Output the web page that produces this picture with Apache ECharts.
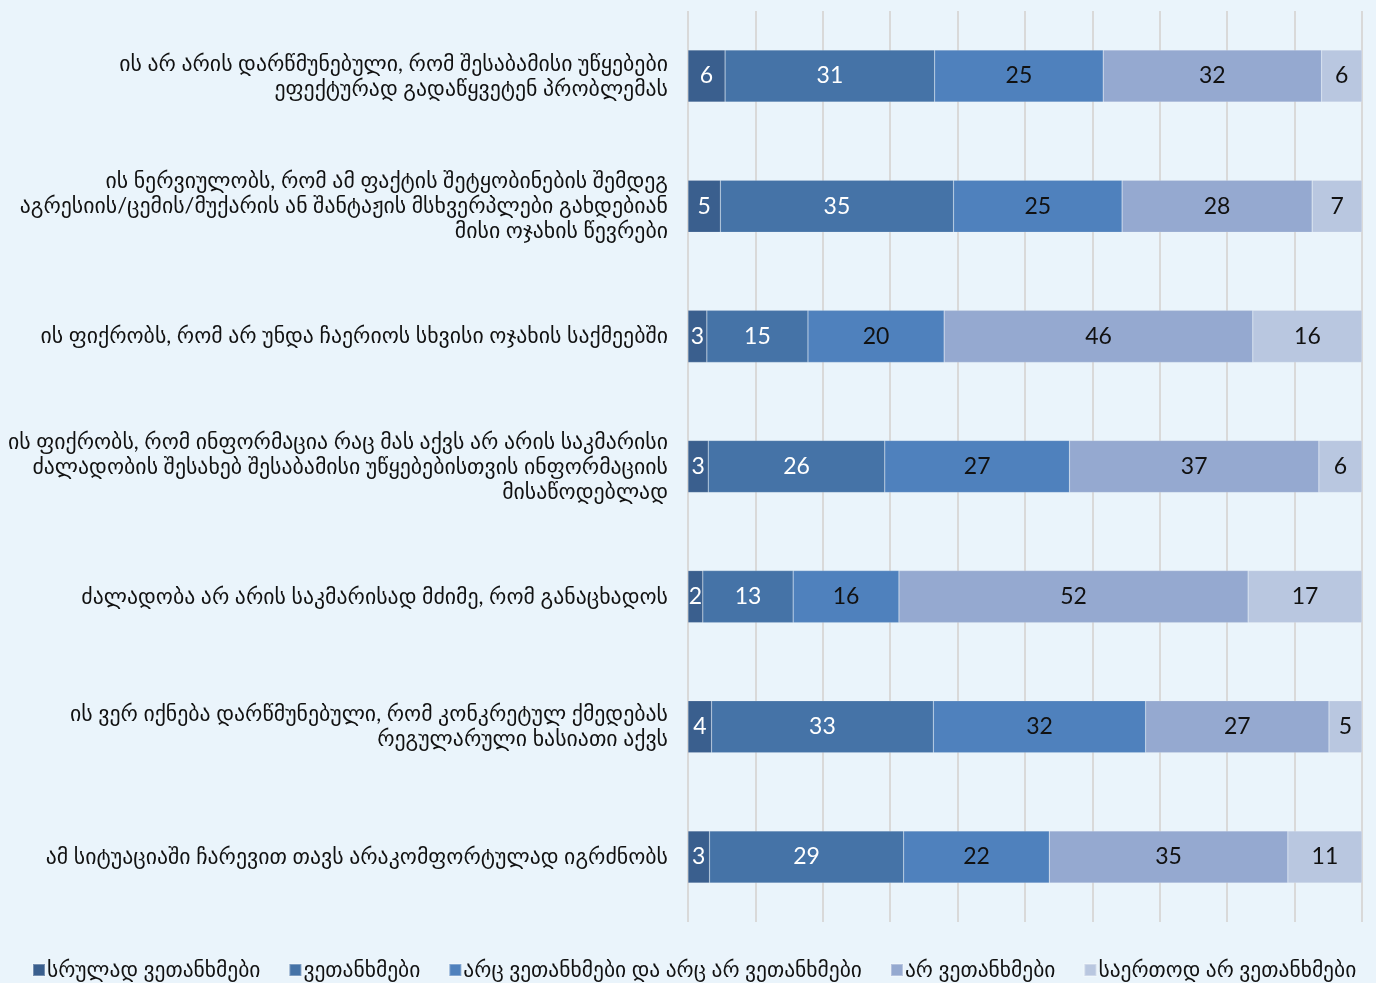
<!DOCTYPE html>
<html>
<head>
<meta charset="utf-8">
<script src="https://cdn.jsdelivr.net/npm/echarts@6/dist/echarts.min.js"></script>
<style>
  html, body { margin: 0; padding: 0; background: #eaf4fb; }
  #main { width: 1376px; height: 983px; }
</style>
</head>
<body>
<div id="main"></div>
<script>
var categories = [
  'ის არ არის დარწმუნებული, რომ შესაბამისი უწყებები\nეფექტურად გადაწყვეტენ პრობლემას',
  'ის ნერვიულობს, რომ ამ ფაქტის შეტყობინების შემდეგ\nაგრესიის/ცემის/მუქარის ან შანტაჟის მსხვერპლები გახდებიან\nმისი ოჯახის წევრები',
  'ის ფიქრობს, რომ არ უნდა ჩაერიოს სხვისი ოჯახის საქმეებში',
  'ის ფიქრობს, რომ ინფორმაცია რაც მას აქვს არ არის საკმარისი\nძალადობის შესახებ შესაბამისი უწყებებისთვის ინფორმაციის\nმისაწოდებლად',
  'ძალადობა არ არის საკმარისად მძიმე, რომ განაცხადოს',
  'ის ვერ იქნება დარწმუნებული, რომ კონკრეტულ ქმედებას\nრეგულარული ხასიათი აქვს',
  'ამ სიტუაციაში ჩარევით თავს არაკომფორტულად იგრძნობს'
];
var seriesNames = ['სრულად ვეთანხმები', 'ვეთანხმები', 'არც ვეთანხმები და არც არ ვეთანხმები', 'არ ვეთანხმები', 'საერთოდ არ ვეთანხმები'];
// percentages (labels show rounded values)
var fullyAgree = [5.5, 4.8, 2.8, 3.0, 2.2, 3.5, 3.2];
var agree = [31.1, 34.6, 15.0, 26.2, 13.4, 32.9, 28.8];
var neutral = [25.0, 25.0, 20.2, 27.4, 15.7, 31.5, 21.6];
var disagree = [32.4, 28.2, 45.8, 37.0, 51.8, 27.2, 35.4];
var fullyDisagree = [6.0, 7.4, 16.2, 6.4, 16.9, 4.9, 11.0];

var colors = ['#3a5f8e', '#4573a7', '#4f81bd', '#95a9d0', '#b9c7e0'];
var labelColors = ['#ffffff', '#ffffff', '#111111', '#111111', '#111111'];
var values = [fullyAgree, agree, neutral, disagree, fullyDisagree];
var fontFam = "Lato, 'DejaVu Sans', sans-serif";

var chart = echarts.init(document.getElementById('main'));
var series = [];
for (var i = 0; i < seriesNames.length; i++) {
  series.push({
    name: seriesNames[i],
    type: 'bar',
    stack: 'total',
    barWidth: '40%',
    data: values[i],
    itemStyle: { color: colors[i], borderColor: 'rgba(255,255,255,0.3)', borderWidth: 0.5 },
    label: {
      show: true,
      position: 'inside',
      color: labelColors[i],
      fontSize: 23,
      fontFamily: fontFam,
      formatter: function (p) { return Math.round(p.value); }
    }
  });
}

var option = {
  backgroundColor: '#eaf4fb',
  color: colors,
  animation: false,
  grid: { left: 688, right: 14, top: 11, bottom: 61, containLabel: false },
  legend: {
    bottom: -3,
    left: 27,
    icon: 'rect',
    itemWidth: 12,
    itemHeight: 12,
    itemGap: 28,
    textStyle: { fontSize: 21.5, color: '#111', fontFamily: fontFam, padding: [0, 0, 0, -3] }
  },
  xAxis: {
    type: 'value',
    min: 0,
    max: 100,
    interval: 10,
    axisLabel: { show: false },
    axisLine: { show: false },
    axisTick: { show: false },
    splitLine: { lineStyle: { color: '#d9d9d9', width: 2 } }
  },
  yAxis: {
    type: 'category',
    inverse: true,
    data: categories,
    axisLine: { show: false },
    axisTick: { show: false },
    axisLabel: {
      margin: 20,
      fontSize: 21.8,
      lineHeight: 25,
      color: '#111',
      align: 'right',
      fontFamily: fontFam
    }
  },
  series: series
};
chart.setOption(option);
</script>
</body>
</html>
